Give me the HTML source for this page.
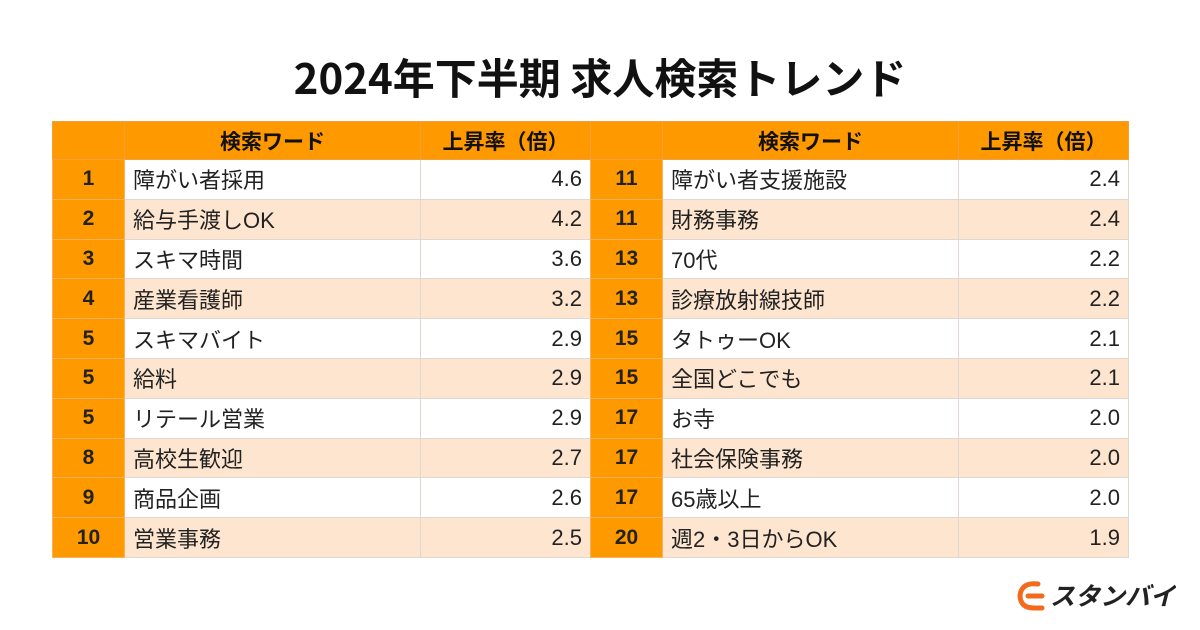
<!DOCTYPE html>
<html><head><meta charset="utf-8"><style>
body{margin:0;width:1200px;height:630px;background:#fff;font-family:"Liberation Sans","Noto Sans CJK JP",sans-serif;position:relative;overflow:hidden}
#title{position:absolute;left:0;width:1200px;top:49px;text-align:center;font-size:42px;line-height:56px;font-weight:bold;color:#111;font-family:"Noto Sans CJK JP",sans-serif}
table{position:absolute;top:121px;border-collapse:collapse;table-layout:fixed}
td{height:38.8px;border:1px solid #e0d8d0;padding:0;font-size:22px;color:#222}
th{height:35px;background:#ff9900;border:1px solid #f0a040;font-size:21px;color:#111}
td.r{background:#ff9900;font-weight:bold;text-align:center;font-size:21px;border-color:#f5b060}
td.k{padding-left:8px}
td.v{text-align:right;padding-right:8px}
tr.e td.k,tr.e td.v{background:#fde5d0}
#logo{position:absolute;left:1016px;top:578px}
</style></head><body>
<div id="title">2024年下半期 求人検索トレンド</div>
<table id="t1" style="left:52px"></table>
<table id="t2" style="left:590px"></table>
<div id="logo">
<svg width="160" height="34"><path d="M22 6 Q6 4 4 17 Q4 30 18 30 L26 30" stroke="#f26b1d" stroke-width="5" fill="none" stroke-linecap="round"/><path d="M12 18 L26 18" stroke="#f26b1d" stroke-width="5" stroke-linecap="round"/>
<text x="34" y="27" font-size="25" font-weight="bold" font-style="italic" fill="#222" font-family="Noto Sans CJK JP, sans-serif">スタンバイ</text></svg></div>
<script>
const ranks=["1","2","3","4","5","5","5","8","9","10","11","11","13","13","15","15","17","17","17","20"];
const words=["障がい者採用","給与手渡しOK","スキマ時間","産業看護師","スキマバイト","給料","リテール営業","高校生歓迎","商品企画","営業事務","障がい者支援施設","財務事務","70代","診療放射線技師","タトゥーOK","全国どこでも","お寺","社会保険事務","65歳以上","週2・3日からOK"];
const values=[4.6,4.2,3.6,3.2,2.9,2.9,2.9,2.7,2.6,2.5,2.4,2.4,2.2,2.2,2.1,2.1,2.0,2.0,2.0,1.9];
function build(id,start){
  const t=document.getElementById(id);
  t.innerHTML='<colgroup><col style="width:72px"><col style="width:296px"><col style="width:170px"></colgroup>';
  const h=document.createElement('tr');
  h.innerHTML='<th></th><th>検索ワード</th><th>上昇率（倍）</th>';
  
  
  t.appendChild(h);
  for(let i=start;i<start+10;i++){
    const tr=document.createElement('tr');
    if((i-start)%2)tr.className='e';
    
    
    tr.innerHTML='<td class="r">'+ranks[i]+'</td><td class="k">'+words[i]+'</td><td class="v">'+values[i].toFixed(1)+'</td>';
    t.appendChild(tr);
  }
}
build('t1',0);build('t2',10);
</script>
</body></html>
